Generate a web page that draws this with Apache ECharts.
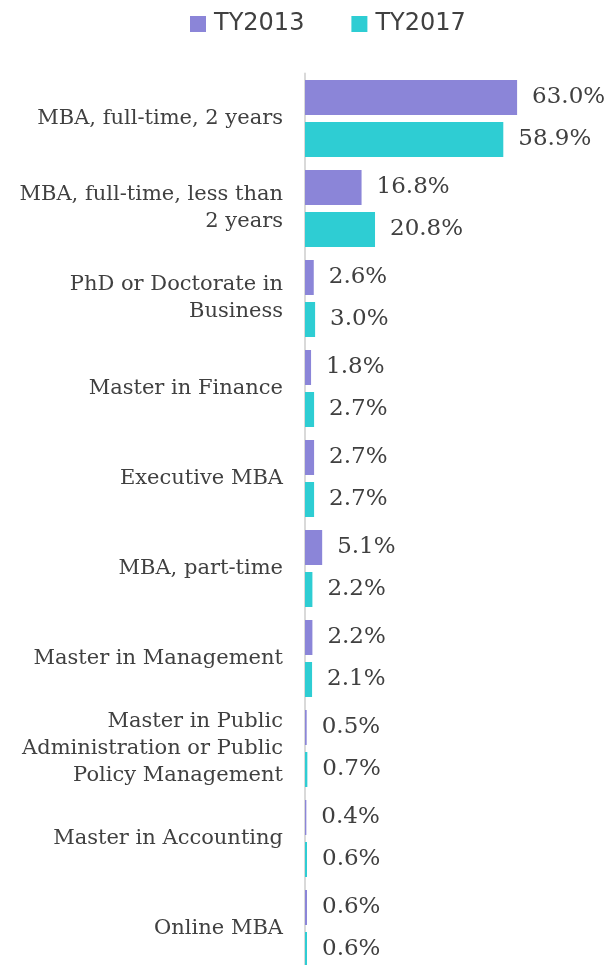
<!DOCTYPE html>
<html><head><meta charset="utf-8">
<script src="https://cdn.jsdelivr.net/npm/echarts@6/dist/echarts.min.js"></script>
<style>html,body{margin:0;padding:0;background:#fff;overflow:hidden}#c{width:611px;height:985px}</style>
</head><body><div id="c"></div>
<script>
const categories = [
  "MBA, full-time, 2 years",
  "MBA, full-time, less than\n2 years",
  "PhD or Doctorate in\nBusiness",
  "Master in Finance",
  "Executive MBA",
  "MBA, part-time",
  "Master in Management",
  "Master in Public\nAdministration or Public\nPolicy Management",
  "Master in Accounting",
  "Online MBA"
];
const ty2013 = [63.0, 16.8, 2.6, 1.8, 2.7, 5.1, 2.2, 0.5, 0.4, 0.6];
const ty2017 = [58.9, 20.8, 3.0, 2.7, 2.7, 2.2, 2.1, 0.7, 0.6, 0.6];
const seriesNames = ["TY2013", "TY2017"];

const chart = echarts.init(document.getElementById('c'));
const labelStyle = {
  show: true, position: 'right', distance: 15,
  fontFamily: 'DejaVu Serif', fontSize: 23, color: '#404040',
  formatter: p => p.value.toFixed(1) + '%'
};
chart.setOption({
  animation: false,
  legend: {
    top: 12, left: 190, padding: 0,
    itemWidth: 16, itemHeight: 16, itemGap: 47,
    icon: 'rect',
    textStyle: { fontFamily: 'DejaVu Sans', fontSize: 24, color: '#404040', padding: [0, 0, 0, 3] },
    data: seriesNames
  },
  grid: { left: 305, width: 303, top: 73.5, height: 900, containLabel: false },
  xAxis: { type: 'value', min: 0, max: 90, show: false },
  yAxis: {
    type: 'category', inverse: true, data: categories,
    axisLine: { show: true, lineStyle: { color: '#d9d9d9', width: 2 } },
    axisTick: { show: false },
    axisLabel: {
      margin: 22, fontFamily: 'DejaVu Serif', fontSize: 21, color: '#404040',
      lineHeight: 27, align: 'right'
    }
  },
  series: [
    { name: seriesNames[0], type: 'bar', data: ty2013, barWidth: 35, barGap: '20%',
      itemStyle: { color: '#8b85d8' }, label: labelStyle },
    { name: seriesNames[1], type: 'bar', data: ty2017, barWidth: 35, barGap: '20%',
      itemStyle: { color: '#2ecdd3' }, label: labelStyle }
  ]
});
</script></body></html>
